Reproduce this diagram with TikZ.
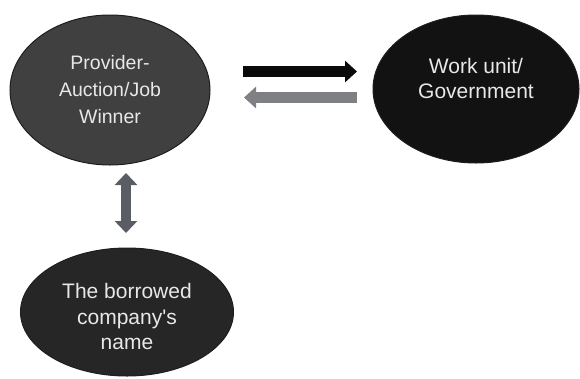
\documentclass[tikz,border=0pt]{standalone}
\usepackage{fontspec}
\setmainfont{Liberation Sans}
\usetikzlibrary{shapes.geometric,arrows.meta}
\definecolor{provfill}{HTML}{404040}
\definecolor{govfill}{HTML}{121212}
\definecolor{compfill}{HTML}{262626}
\definecolor{edgecol}{HTML}{1E1E1E}
\definecolor{txtcol}{HTML}{E8E8E8}
\definecolor{blackarr}{HTML}{0A0A0A}
\definecolor{grayarr}{HTML}{7E8084}
\definecolor{slatearr}{HTML}{5A5E64}
\tikzset{
  blob/.style={ellipse, draw=edgecol, line width=1pt, inner sep=0pt,
    text=txtcol, align=center, font=\fontsize{19.5}{27}\selectfont},
  bigtext/.style={font=\fontsize{21}{25.5}\selectfont},
  fatarrow/.style={line width=11pt, -{Triangle[length=12pt,width=21pt]}},
  dblarrow/.style={line width=10pt, {Triangle[length=12pt,width=22pt]}-{Triangle[length=12pt,width=22pt]}}
}
\begin{document}
\begin{tikzpicture}[x=1pt,y=-1pt]
\useasboundingbox (0,0) rectangle (580,378);
\node[blob, fill=provfill, minimum width=200pt, minimum height=150pt] (prov) at (110,90)
  {Provider-\\Auction/Job\\Winner};
\node[blob, bigtext, fill=govfill, minimum width=206pt, minimum height=148pt] (gov) at (476,89)
  {Work unit/\\Government\\[-12pt]\strut};
\node[blob, bigtext, fill=compfill, minimum width=213pt, minimum height=128pt] (comp) at (127,312)
  {\strut\\[-19pt]The borrowed\\company\textquotesingle s\\name};
\coordinate (bs) at (243,71.5);
\coordinate (be) at (357,71.5);
\coordinate (gs) at (357,97.5);
\coordinate (ge) at (244,97.5);
\coordinate (vs) at (126,173);
\coordinate (ve) at (126,233);
\draw[fatarrow, draw=blackarr, fill=blackarr] (bs) -- (be);
\draw[fatarrow, draw=grayarr, fill=grayarr] (gs) -- (ge);
\draw[dblarrow, draw=slatearr, fill=slatearr] (vs) -- (ve);
\end{tikzpicture}
\end{document}
